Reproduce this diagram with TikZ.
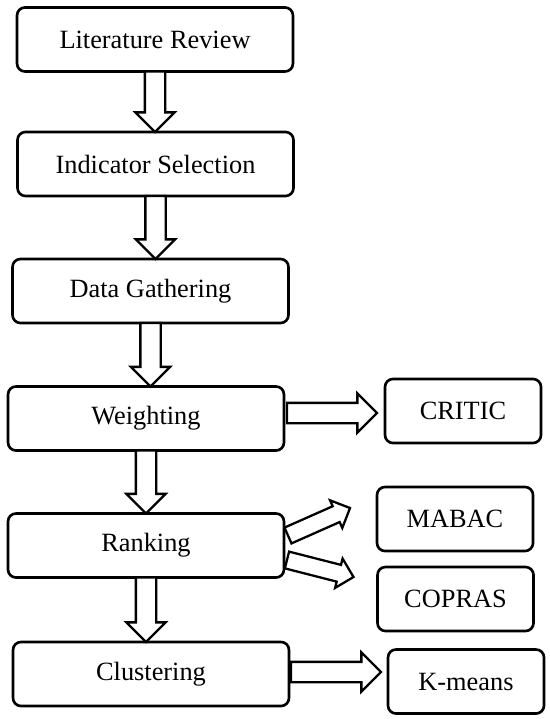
\documentclass[tikz,border=0pt]{standalone}
\usepackage{fontspec}
\setmainfont{Liberation Serif}
\usetikzlibrary{shapes.arrows,calc}

% hollow block arrow from one point to another
\newcommand{\blockarrow}[4][]{%
  \path let \p1=#3, \p2=#4, \n1={veclen(\x2-\x1,\y2-\y1)} in
    (\p1) -- (\p2) node[barrow, #1, pos=0, anchor=tail, sloped, allow upside down, minimum height=\n1] (#2) {};}

\begin{document}
\begin{tikzpicture}[x=0.02cm, y=-0.02cm,
  font=\fontsize{15}{18}\selectfont,
  box/.style={draw, line width=1.5pt, rounded corners=4.5pt, minimum width=5.52cm, minimum height=1.28cm, inner sep=0pt, outer sep=0pt, align=center},
  side/.style={box, minimum width=3.12cm},
  barrow/.style={single arrow, draw, line width=1.3pt, fill=white, inner xsep=0pt, inner ysep=0.18cm, outer sep=0pt, minimum width=0.74cm, single arrow head extend=0.19cm},
  sarrow/.style={inner ysep=0.15cm, minimum width=0.56cm, single arrow head extend=0.13cm}]
\useasboundingbox (0,0) rectangle (550,719);
% main column
\node[box] (lit) at (155,39.5) {Literature Review};
\node[box] (ind) at (155.5,164) {Indicator Selection};
\node[box] (data) at (150.5,291) {Data Gathering};
\node[box] (weigh) at (146,418.5) {Weighting};
\node[box] (rank) at (146,545.5) {Ranking};
\node[box] (clus) at (151,674) {Clustering};
% methods
\node[side] (critic) at (463,411) {CRITIC};
\node[side] (mabac) at (455,519) {MABAC};
\node[side] (copras) at (455.5,599) {COPRAS};
\node[side] (kmeans) at (466,681.5) {K-means};
% arrows
\blockarrow{a1}{(lit.south)}{(lit.south |- ind.north)}
\blockarrow{a2}{(ind.south)}{(ind.south |- data.north)}
\blockarrow{a3}{(data.south)}{(data.south |- weigh.north)}
\blockarrow{a4}{(weigh.south)}{(weigh.south |- rank.north)}
\blockarrow{a5}{(rank.south)}{(rank.south |- clus.north)}
\blockarrow{a6}{($(weigh.east |- critic)+(3,2)$)}{($(critic.west)+(-8,2)$)}
\blockarrow[sarrow]{a7}{($(rank.east)+(4,-10)$)}{($(mabac.west)+(-27,-11)$)}
\blockarrow[sarrow]{a8}{($(rank.east)+(3,14.5)$)}{($(copras.west)+(-24,-22)$)}
\blockarrow{a9}{($(clus.east)+(2,-2)$)}{($(kmeans.west |- clus)+(-7,-2)$)}
\end{tikzpicture}
\end{document}
